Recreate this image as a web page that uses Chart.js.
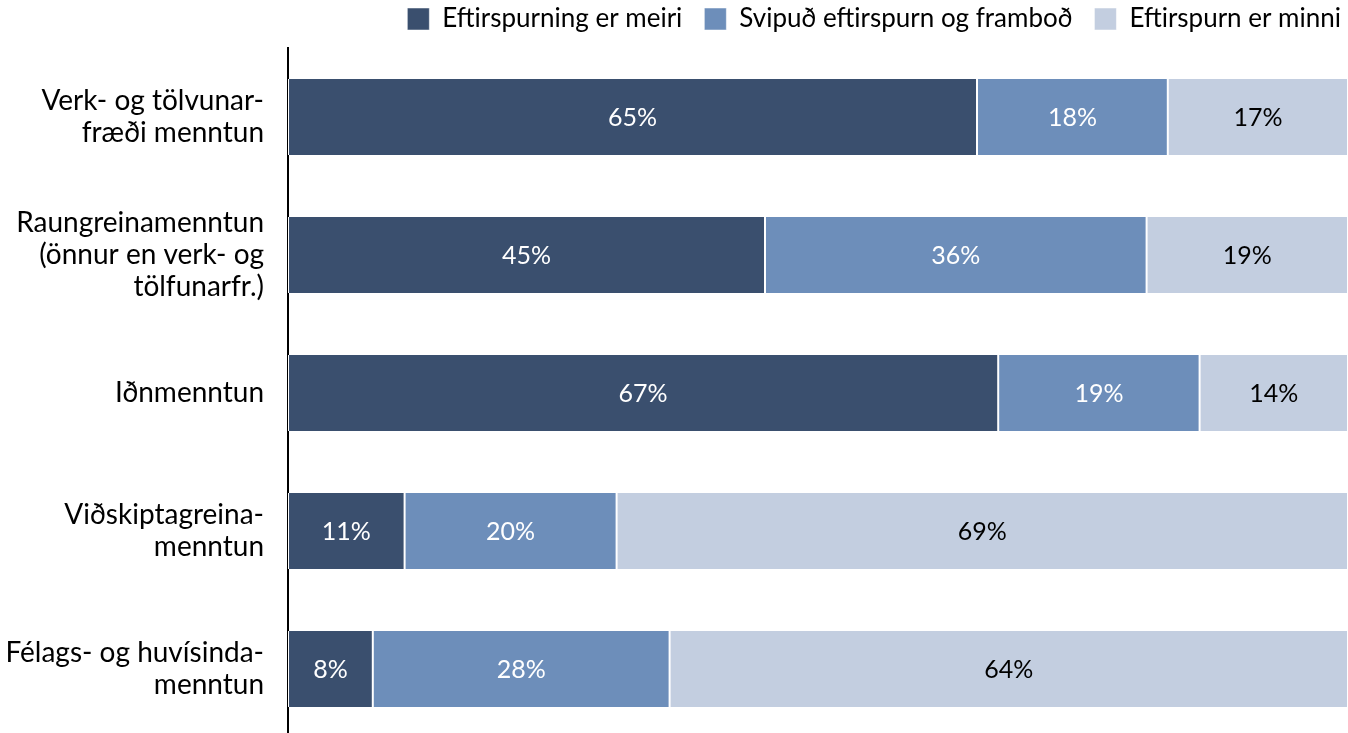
<!DOCTYPE html>
<html>
<head>
<meta charset="utf-8">
<script src="https://cdn.jsdelivr.net/npm/chart.js@4"></script>
<style>
  html, body { margin: 0; padding: 0; background: #fff; overflow: hidden; }
</style>
</head>
<body>
<canvas id="eduChart" width="1348" height="740"></canvas>
<script>
// Categories (y axis), each label split into lines
const categories = [
  ['Verk- og tölvunar-', 'fræði menntun'],
  ['Raungreinamenntun', '(önnur en verk- og', 'tölfunarfr.)'],
  ['Iðnmenntun'],
  ['Viðskiptagreina-', 'menntun'],
  ['Félags- og huvísinda-', 'menntun']
];
const seriesNames = ['Eftirspurning er meiri', 'Svipuð eftirspurn og framboð', 'Eftirspurn er minni'];
const moreDemand = [65, 45, 67, 11, 8];
const similar = [18, 36, 19, 20, 28];
const lessDemand = [17, 19, 14, 69, 64];

const colors = ['#3A4F6E', '#6D8EBA', '#C3CEE0'];
const labelColors = ['#fff', '#fff', '#000'];
const FONT = 'Lato, Carlito, Calibri, sans-serif';

// simple data label plugin (no external plugin available)
const barLabels = {
  id: 'barLabels',
  afterLayout(chart) {
    // nudge legend up and towards the right edge
    const lg = chart.legend;
    if (lg) {
      lg.top -= 6;
      lg.bottom -= 6;
      lg.left += 15;
      lg.right += 15;
    }
  },
  afterDatasetsDraw(chart) {
    const ctx = chart.ctx;
    ctx.save();
    ctx.font = '25px ' + FONT;
    ctx.textAlign = 'center';
    ctx.textBaseline = 'middle';
    chart.data.datasets.forEach((ds, i) => {
      const meta = chart.getDatasetMeta(i);
      meta.data.forEach((bar, j) => {
        const p = bar.getProps(['x', 'y', 'base'], true);
        ctx.fillStyle = labelColors[i];
        ctx.fillText(ds.data[j] + '%', (p.x + p.base) / 2, p.y + 1);
      });
    });
    ctx.restore();
  }
};

const mk = (name, data, i) => ({
  label: name,
  data: data,
  backgroundColor: colors[i],
  borderColor: '#fff',
  borderWidth: { left: 1, right: 1, top: 0, bottom: 0 },
  borderSkipped: false,
  barPercentage: 0.55,
  categoryPercentage: 1
});

new Chart(document.getElementById('eduChart'), {
  type: 'bar',
  data: {
    labels: categories,
    datasets: [
      mk(seriesNames[0], moreDemand, 0),
      mk(seriesNames[1], similar, 1),
      mk(seriesNames[2], lessDemand, 2)
    ]
  },
  options: {
    indexAxis: 'y',
    responsive: false,
    animation: false,
    layout: { padding: { left: 0, right: 0, top: -10, bottom: 2 } },
    plugins: {
      legend: {
        position: 'top',
        align: 'end',
        labels: {
          boxWidth: 22,
          boxHeight: 22,
          padding: 22,
          color: '#000',
          font: { family: FONT, size: 26 }
        }
      },
      tooltip: { enabled: false }
    },
    scales: {
      x: {
        stacked: true,
        min: 0,
        max: 100,
        display: false
      },
      y: {
        stacked: true,
        afterFit: (scale) => {
          scale.width = 288;
          scale.paddingTop = 0;
          scale.paddingBottom = 0;
        },
        grid: { display: false, drawTicks: false },
        border: { display: true, color: '#000', width: 2 },
        ticks: {
          color: '#000',
          padding: 24,
          font: { family: FONT, size: 28, lineHeight: 1.15 }
        }
      }
    }
  },
  plugins: [barLabels]
});
</script>
</body>
</html>
